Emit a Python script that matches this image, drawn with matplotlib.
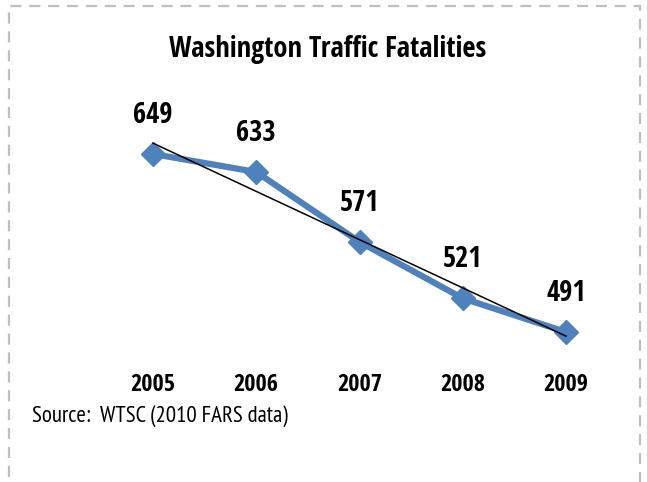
import numpy as np
import matplotlib.pyplot as plt
from matplotlib.patches import Rectangle

# DATA
years = ["2005", "2006", "2007", "2008", "2009"]
fatalities = [649, 633, 571, 521, 491]

plt.rcParams["font.family"] = ["Open Sans Condensed", "DejaVu Sans"]

fig = plt.figure(figsize=(6.47, 4.82), dpi=100)

# DASHED FRAME
frame = Rectangle(
    (9 / 647, -0.1), 631 / 647, 1.1 - 6 / 482,
    transform=fig.transFigure, fill=False,
    edgecolor="#bfbfbf", linewidth=1.6, linestyle=(0, (5, 3.5)),
    clip_on=False
)
fig.patches.append(frame)

# AXES
ax = fig.add_axes([101.4 / 647, 1 - 365 / 482, 516.2 / 647, 265 / 482])
x = np.arange(len(years))

ax.plot(
    x, fatalities,
    color="#4f81bd", linewidth=4.5,
    marker="D", markersize=12.5, zorder=2
)

# TRENDLINE
slope, intercept = np.polyfit(x, fatalities, 1)
ax.plot(x, slope * x + intercept, color="black", linewidth=1.1, zorder=3)

# DATA LABELS
for xi, val in zip(x, fatalities):
    ax.annotate(
        str(val), (xi, val),
        xytext=(0, 28), textcoords="offset points",
        ha="center", va="center",
        fontsize=20.5, fontweight="bold"
    )

ax.set_xlim(-0.5, len(years) - 0.5)
ax.set_ylim(461.8, 696.9)
ax.set_xticks(x)
ax.set_xticklabels(years, fontsize=17.5, fontweight="bold")
ax.tick_params(axis="x", length=0, pad=6)
ax.set_yticks([])
for spine in ax.spines.values():
    spine.set_visible(False)

# TEXT
fig.text(328 / 647, 1 - 49 / 482, "Washington Traffic Fatalities",
         ha="center", va="center", fontsize=20.5, fontweight="bold")
fig.text(32 / 647, 1 - 416 / 482, "Source:  WTSC (2010 FARS data)",
         ha="left", va="center", fontsize=16.5,
         family=["PT Sans Narrow", "DejaVu Sans"])

fig.savefig("out.png", dpi=100)
